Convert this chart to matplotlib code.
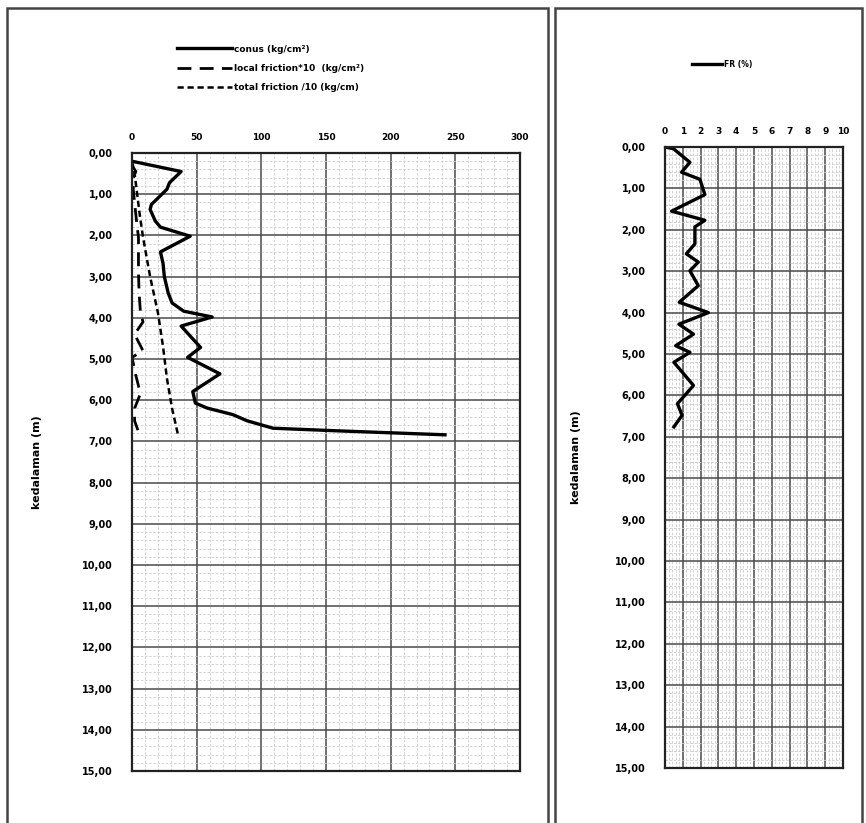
import matplotlib
matplotlib.use("Agg")
import matplotlib.pyplot as plt
from matplotlib.patches import Rectangle
from matplotlib.ticker import MultipleLocator, FuncFormatter

# conus (kg/cm2) against depth (m)
conus_depth = [0.2, 0.45, 0.72, 0.88, 1.25, 1.37, 1.65, 1.8, 2.02, 2.4, 2.68, 3.0, 3.4, 3.64,
               3.84, 3.98, 4.2, 4.72, 4.96, 5.36, 5.79, 6.07, 6.19, 6.35, 6.5, 6.68, 6.74, 6.84]
conus = [0, 38, 29, 27, 15, 14, 18, 22, 45, 22, 24, 25, 28, 31,
         40, 62, 38, 53, 43, 68, 47, 49, 58, 78, 89, 109, 156, 242]

# local friction *10 (kg/cm2)
lf_depth = [0.3, 0.45, 0.6, 0.9, 1.2, 1.5, 1.8, 2.04, 2.5, 2.9, 3.4, 3.86, 4.1, 4.4, 4.8,
            4.96, 5.4, 5.84, 6.2, 6.5, 6.9]
local_friction = [0, 3, 1, 1, 2, 3, 4, 5, 5, 5, 5.5, 6.5, 8.5, 2, 8.5, 0, 3, 6.5, 2, 2, 6.5]

# total friction /10 (kg/cm)
tf_depth = [0.2, 0.5, 1.0, 1.5, 2.04, 3.0, 3.87, 4.7, 5.47, 6.2, 6.9]
total_friction = [0, 2, 4, 6, 8.5, 14, 20, 24, 27, 31, 36]

# friction ratio FR (%)
fr_depth = [0.0, 0.04, 0.37, 0.61, 0.78, 1.15, 1.55, 1.77, 1.93, 2.34, 2.58, 2.78, 2.99,
            3.35, 3.75, 4.0, 4.28, 4.52, 4.8, 4.96, 5.2, 5.76, 6.2, 6.48, 6.76]
fr = [0, 0.47, 1.4, 0.93, 1.96, 2.24, 0.37, 2.24, 1.68, 1.68, 1.2, 1.87, 1.4,
      1.87, 0.8, 2.44, 0.78, 1.6, 0.6, 1.4, 0.5, 1.6, 0.7, 0.96, 0.5]

depth_max = 15
bold = {'fontweight': 'bold'}

fig = plt.figure(figsize=(8.66, 8.23), dpi=100)

# outer panel frames, like the scanned sheet
fig.add_artist(Rectangle((7 / 866, -0.01), 541 / 866, 1 - 8 / 823 + 0.01, transform=fig.transFigure,
                         fill=False, edgecolor='#444444', linewidth=1.8))
fig.add_artist(Rectangle((555 / 866, -0.01), 307 / 866, 1 - 8 / 823 + 0.01, transform=fig.transFigure,
                         fill=False, edgecolor='#444444', linewidth=1.8))

ax1 = fig.add_axes([132 / 866, 1 - 771 / 823, 388 / 866, 618 / 823])
ax2 = fig.add_axes([665 / 866, 1 - 768 / 823, 178 / 866, 621 / 823])


def style_axis(ax, xmax, xmajor, xminor, lpad):
    ax.set_xlim(0, xmax)
    ax.set_ylim(depth_max, 0)
    ax.xaxis.tick_top()
    ax.xaxis.set_major_locator(MultipleLocator(xmajor))
    ax.xaxis.set_minor_locator(MultipleLocator(xminor))
    ax.yaxis.set_major_locator(MultipleLocator(1))
    ax.yaxis.set_minor_locator(MultipleLocator(0.2))
    ax.yaxis.set_major_formatter(FuncFormatter(lambda v, p: f'{v:.2f}'.replace('.', ',')))
    ax.xaxis.set_major_formatter(FuncFormatter(lambda v, p: f'{v:g}'))
    ax.grid(which='major', color='#4a4a4a', linewidth=1.1)
    ax.grid(which='minor', color='#cccccc', linewidth=0.6, linestyle=(0, (3, 2)))
    ax.tick_params(which='both', length=0)
    ax.tick_params(axis='x', labelsize=6.5, pad=8)
    ax.tick_params(axis='y', labelsize=7, pad=14)
    for lab in ax.get_xticklabels() + ax.get_yticklabels():
        lab.set_fontweight('bold')
    for s in ax.spines.values():
        s.set_linewidth(1.6)
        s.set_color('#222222')
    ax.set_ylabel('kedalaman (m)', fontsize=8, labelpad=lpad, **bold)


style_axis(ax1, 300, 50, 10, 29)
style_axis(ax2, 10, 1, 0.2, 24)

ax1.plot(conus, conus_depth, color='black', linewidth=2.4, label='conus (kg/cm²)')
ax1.plot(local_friction, lf_depth, color='black', linewidth=2.0, linestyle=(0, (5, 3)),
         label='local friction*10  (kg/cm²)')
ax1.plot(total_friction, tf_depth, color='black', linewidth=1.8, linestyle=(0, (2.5, 1.5)),
         label='total friction /10 (kg/cm)')

ax2.plot(fr, fr_depth, color='black', linewidth=2.4, label='FR (%)')

leg1 = ax1.legend(loc='upper left', bbox_to_anchor=(172 / 866, 1 - 40 / 823), bbox_transform=fig.transFigure,
                  frameon=False, prop={'size': 6.5, 'weight': 'bold'}, handlelength=6.2, handletextpad=0.2,
                  labelspacing=1.15, borderpad=0)
leg2 = ax2.legend(loc='upper left', bbox_to_anchor=(688 / 866, 1 - 56 / 823), bbox_transform=fig.transFigure,
                  frameon=False, prop={'size': 5.5, 'weight': 'bold'}, handlelength=4, handletextpad=0.2,
                  borderpad=0)

fig.savefig('out.png', dpi=100)
